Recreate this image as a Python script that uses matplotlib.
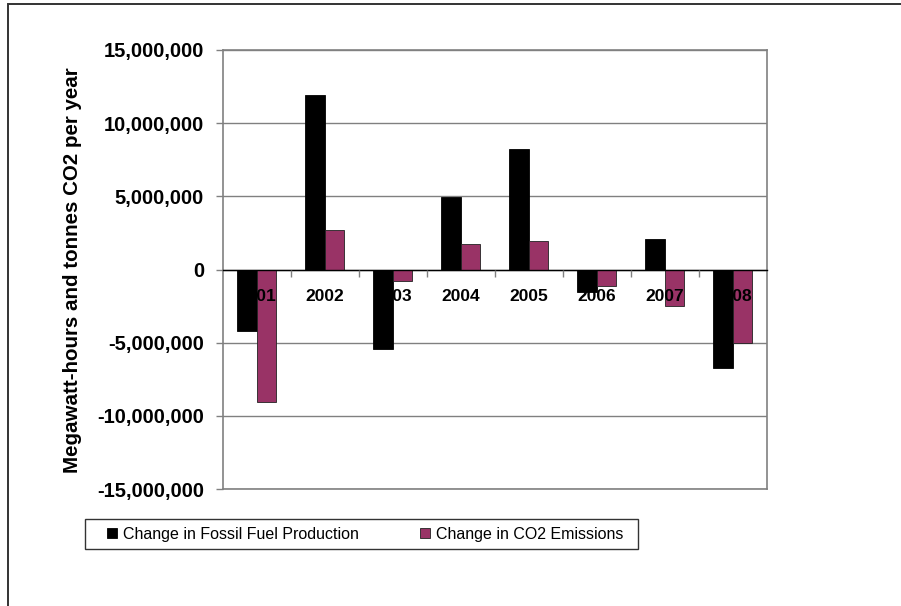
import matplotlib
matplotlib.use('Agg')
import matplotlib.pyplot as plt
from matplotlib.patches import Rectangle
from matplotlib.ticker import FuncFormatter, FixedLocator
import numpy as np

# ── Data ──────────────────────────────────────────────────────────────────
years       = ['2001', '2002', '2003', '2004', '2005', '2006', '2007', '2008']
fossil_prod = [-4210000, 11900000, -5460000, 4960000, 8260000, -1530000, 2070000, -6720000]
co2_emiss   = [-9080000, 2680000, -820000, 1710000, 1980000, -1160000, -2510000, -5050000]

BLACK  = '#000000'
PURPLE = '#993366'
GRID   = '#808080'

plt.rcParams['font.family'] = ['Liberation Sans', 'DejaVu Sans']

fig = plt.figure(figsize=(9.01, 6.06), dpi=100)
ax = fig.add_axes([222.7/901, 1-489/606, (766.7-222.7)/901, (489-50)/606])

x = np.arange(len(years)); w = 0.29
ax.bar(x - w/2, fossil_prod, w, color=BLACK, edgecolor=BLACK, linewidth=0.6,
       label='Change in Fossil Fuel Production', zorder=2)
ax.bar(x + w/2, co2_emiss, w, color=PURPLE, edgecolor='#222222', linewidth=0.6,
       label='Change in CO2 Emissions', zorder=2)

# axes & grid
ax.set_xlim(-0.5, len(years) - 0.5)
ax.set_ylim(-15e6, 15e6)
ax.set_yticks(np.arange(-15e6, 15e6 + 1, 5e6))
ax.yaxis.set_major_formatter(FuncFormatter(lambda v, p: f'{v:,.0f}'))
ax.grid(axis='y', color=GRID, linewidth=1.0, zorder=0)
ax.set_axisbelow(True)
ax.xaxis.set_zorder(4)   # category labels sit on top of the bars, like Excel
ax.axhline(-15e6, color=GRID, linewidth=1.2, clip_on=False, zorder=1)

ax.spines['bottom'].set_position(('data', 0))
ax.spines['bottom'].set_color('black'); ax.spines['bottom'].set_linewidth(1.0)
ax.spines['bottom'].set_zorder(3)
for s in ['left', 'top', 'right']:
    ax.spines[s].set_color(GRID); ax.spines[s].set_linewidth(1.2)

ax.set_xticks(x)
ax.set_xticklabels(years, fontsize=12.5, fontweight='bold')
ax.xaxis.set_minor_locator(FixedLocator(np.arange(0.5, len(years) - 0.5, 1)))
ax.tick_params(axis='x', which='major', length=0, pad=14)
ax.tick_params(axis='x', which='minor', length=5, width=1, color=GRID, direction='out')
ax.tick_params(axis='y', length=5, width=1, color=GRID, pad=8.5, labelsize=14.5)
for lbl in ax.get_yticklabels():
    lbl.set_fontweight('bold')

fig.text(73/901, 1-270/606, 'Megawatt-hours and tonnes CO2 per year', rotation=90,
         ha='center', va='center', fontsize=14.8, fontweight='bold')

# legend (frame drawn separately so it can be wider than the entries)
leg = ax.legend(loc='center', bbox_to_anchor=(365/901, 1-534/606),
                bbox_transform=fig.transFigure, ncol=2, fontsize=11.5,
                frameon=False, handlelength=0.65, handleheight=0.65,
                handletextpad=0.35, columnspacing=3.8, borderpad=0.45, borderaxespad=0)
fig.add_artist(Rectangle((85/901, 1-549/606), 553/901, 30/606, transform=fig.transFigure,
                         fill=False, edgecolor='#333333', linewidth=1.0))

# outer chart border
fig.add_artist(Rectangle((8/901, -0.2), 1.2, 1.2 - 4/606, transform=fig.transFigure,
                         fill=False, edgecolor='#333333', linewidth=1.4))

plt.savefig('out.png', dpi=100, facecolor='white')
